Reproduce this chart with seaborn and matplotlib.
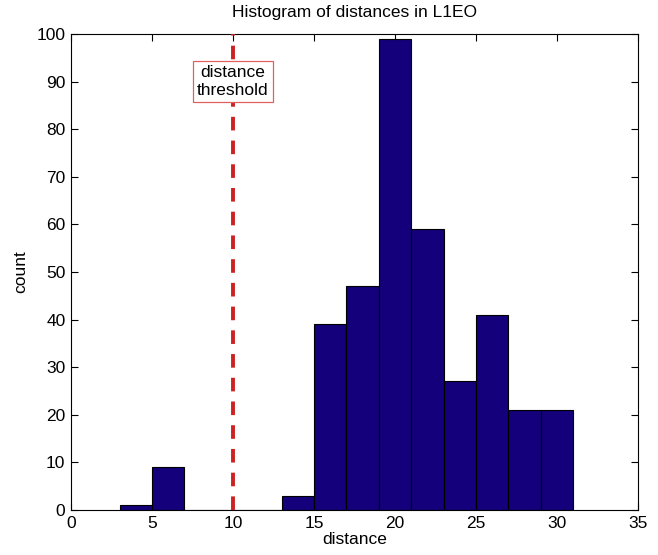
import numpy as np
import pandas as pd
import matplotlib
matplotlib.use("Agg")
import matplotlib.pyplot as plt
import seaborn as sns

# Data
bin_edges = [3, 5, 7, 9, 11, 13, 15, 17, 19, 21, 23, 25, 27, 29, 31]
counts = [1, 9, 0, 0, 0, 3, 39, 47, 99, 59, 27, 41, 21, 21]
threshold = 10
title = "Histogram of distances in L1EO"
x_label = "distance"
y_label = "count"
x_ticks = [0, 5, 10, 15, 20, 25, 30, 35]
y_ticks = [0, 10, 20, 30, 40, 50, 60, 70, 80, 90, 100]

sns.set_style("white")
plt.rcParams['font.family'] = ['Liberation Sans', 'DejaVu Sans']
plt.rcParams['text.color'] = 'black'
plt.rcParams['axes.labelcolor'] = 'black'
FS = 12.5

centers = [(a + b) / 2 for a, b in zip(bin_edges[:-1], bin_edges[1:])]
df = pd.DataFrame({"center": centers, "count": counts})

fig = plt.figure(figsize=(6.58, 5.55), dpi=100)
ax = fig.add_axes([71 / 658, 1 - 510 / 555, (638 - 71) / 658, (510 - 34) / 555])

sns.histplot(data=df, x="center", weights="count", bins=bin_edges, ax=ax,
             color="#14007a", alpha=1.0, edgecolor="black", linewidth=0.8)

ax.axvline(threshold, color="#cc2222", linestyle=(0, (3.5, 2.6)), linewidth=2.8, zorder=3)
ax.text(threshold, 90, "distance\nthreshold", ha="center", va="center", fontsize=FS,
        linespacing=1.25, zorder=4, color="black",
        bbox=dict(boxstyle="square,pad=0.25", facecolor="white", edgecolor="#e06060", linewidth=0.9))

ax.set_xlim(0, 35)
ax.set_ylim(0, 100)
ax.set_xticks(x_ticks)
ax.set_yticks(y_ticks)
ax.set_xlabel(x_label, fontsize=FS, labelpad=1)
ax.set_ylabel(y_label, fontsize=FS, labelpad=6)
ax.set_title(title, fontsize=FS, pad=12, color="black")
ax.tick_params(direction="in", length=5, width=0.8, top=True, right=True,
               bottom=True, left=True, labelsize=FS, pad=4, colors="black")
for s in ax.spines.values():
    s.set_visible(True)
    s.set_color("black")
    s.set_linewidth(0.8)

fig.savefig("out.png", dpi=100)
